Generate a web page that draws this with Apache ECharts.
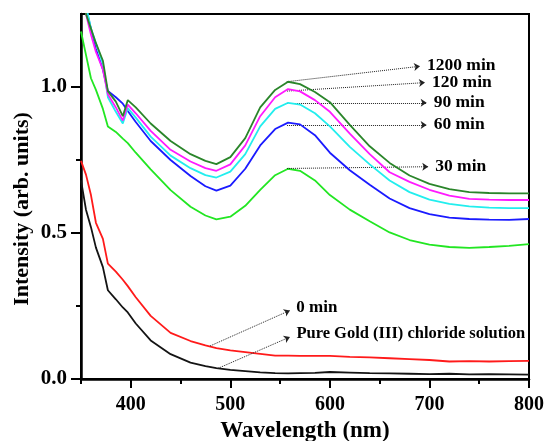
<!DOCTYPE html>
<html>
<head>
<meta charset="utf-8">
<style>
  html, body { margin: 0; padding: 0; background: #fff; }
  #chart { width: 547px; height: 441px; }
</style>
<script src="https://cdn.jsdelivr.net/npm/echarts@6/dist/echarts.min.js"></script>
</head>
<body>
<div id="chart"></div>
<script>
// Absorption spectra of the gold solution recorded at increasing reaction times
const wavelengths = [350, 355, 360, 365, 372, 377, 385, 392, 397, 405, 420, 440, 460, 475, 486, 500, 515, 530, 545, 558, 570, 585, 600, 620, 640, 660, 680, 700, 720, 740, 760, 780, 800];

const pureGold = [0.68, 0.58, 0.52, 0.45, 0.383, 0.304, 0.273, 0.245, 0.228, 0.19, 0.132, 0.085, 0.056, 0.044, 0.037, 0.031, 0.027, 0.023, 0.02, 0.019, 0.02, 0.021, 0.024, 0.022, 0.02, 0.019, 0.018, 0.017, 0.018, 0.016, 0.017, 0.016, 0.015];
const min0 = [0.747, 0.70, 0.63, 0.535, 0.48, 0.395, 0.368, 0.34, 0.318, 0.28, 0.216, 0.158, 0.13, 0.115, 0.106, 0.098, 0.092, 0.086, 0.08, 0.08, 0.079, 0.079, 0.079, 0.076, 0.074, 0.071, 0.068, 0.065, 0.06, 0.061, 0.06, 0.061, 0.062];
const min30 = [1.19, 1.11, 1.03, 0.99, 0.925, 0.865, 0.846, 0.823, 0.808, 0.775, 0.718, 0.647, 0.59, 0.56, 0.547, 0.556, 0.593, 0.648, 0.698, 0.72, 0.713, 0.68, 0.63, 0.58, 0.54, 0.502, 0.476, 0.46, 0.452, 0.449, 0.452, 0.456, 0.462];
const min60 = [1.4, 1.27, 1.2, 1.13, 1.06, 0.986, 0.965, 0.943, 0.918, 0.88, 0.815, 0.75, 0.695, 0.66, 0.645, 0.662, 0.72, 0.80, 0.856, 0.878, 0.872, 0.835, 0.775, 0.715, 0.665, 0.618, 0.585, 0.565, 0.553, 0.548, 0.546, 0.545, 0.548];
const min90 = [1.45, 1.28, 1.2, 1.15, 1.08, 0.965, 0.915, 0.875, 0.928, 0.895, 0.83, 0.765, 0.722, 0.698, 0.69, 0.71, 0.77, 0.865, 0.925, 0.946, 0.94, 0.91, 0.865, 0.795, 0.735, 0.68, 0.64, 0.614, 0.6, 0.591, 0.587, 0.585, 0.585];
const min120 = [1.42, 1.25, 1.18, 1.12, 1.06, 0.975, 0.93, 0.885, 0.94, 0.91, 0.85, 0.785, 0.745, 0.722, 0.713, 0.735, 0.80, 0.90, 0.965, 0.993, 0.985, 0.955, 0.915, 0.84, 0.77, 0.708, 0.675, 0.648, 0.628, 0.617, 0.614, 0.613, 0.613];
const min1200 = [1.42, 1.25, 1.2, 1.15, 1.09, 0.986, 0.95, 0.90, 0.955, 0.93, 0.875, 0.815, 0.77, 0.747, 0.736, 0.76, 0.825, 0.93, 0.99, 1.018, 1.01, 0.983, 0.948, 0.87, 0.797, 0.74, 0.697, 0.668, 0.65, 0.64, 0.637, 0.636, 0.636];

const seriesNames = ['Pure Gold (III) chloride solution', '0 min', '30 min', '60 min', '90 min', '120 min', '1200 min'];
const seriesValues = [pureGold, min0, min30, min60, min90, min120, min1200];
const seriesColors = ['#141414', '#ff1a1a', '#22e622', '#1a1aff', '#22eeee', '#ff1aff', '#2a852a'];
const calloutFontSizes = [16.5, 17, 17.5, 17.5, 17.5, 17.5, 17.5];

// Tick labels
const xTickLabels = [400, 500, 600, 700, 800];
const xMinorTicks = [350, 450, 550, 650, 750];
const yTickLabels = [0, 0.5, 1.0];
const yMinorTicks = [0.25, 0.75];

// Dotted call-out arrows: from a point on the curve to the label position (nm, intensity)
const arrowFrom = [[488, 0.037], [479.6, 0.113], [557, 0.721], [557, 0.870], [557, 0.946], [557, 0.986], [556.6, 1.018]];
const arrowTo = [[559.9, 0.144], [559.9, 0.235], [698.8, 0.727], [697.2, 0.870], [697.2, 0.946], [695.5, 1.015], [690.5, 1.071]];

const serif = '"Liberation Serif", "Times New Roman", serif';

const chart = echarts.init(document.getElementById('chart'), null, { renderer: 'canvas' });

const series = seriesNames.map((name, i) => ({
  name: name,
  type: 'line',
  xAxisIndex: 0,
  yAxisIndex: 0,
  data: wavelengths.map((w, j) => [w, seriesValues[i][j]]),
  showSymbol: false,
  symbol: 'none',
  clip: true,
  lineStyle: { color: seriesColors[i], width: 1.8 },
  itemStyle: { color: seriesColors[i] },
  z: 2 + i,
  markLine: {
    silent: true,
    symbol: ['none', 'arrow'],
    symbolSize: 6,
    lineStyle: { type: 'dotted', color: '#222', width: 1 },
    label: {
      show: true,
      position: 'end',
      distance: 7,
      formatter: name,
      color: '#000',
      fontFamily: serif,
      fontWeight: 'bold',
      fontSize: calloutFontSizes[i]
    },
    data: [[
      { coord: arrowFrom[i] },
      { coord: arrowTo[i] }
    ]]
  }
}));

chart.setOption({
  animation: false,
  backgroundColor: '#fff',
  grid: {
    left: 81, right: 18, top: 14, bottom: 62,
    outerBoundsMode: 'none',
    containLabel: false,
    show: true, borderColor: '#000', borderWidth: 2, backgroundColor: 'transparent'
  },
  xAxis: [{
    type: 'value',
    min: 350, max: 800, interval: 50,
    name: 'Wavelength (nm)',
    nameLocation: 'middle',
    nameGap: 41,
    nameMoveOverlap: false,
    nameTextStyle: { color: '#000', fontFamily: serif, fontWeight: 'bold', fontSize: 23 },
    axisLine: { show: true, onZero: false, lineStyle: { color: '#000', width: 2.5 } },
    axisTick: { show: true, inside: false, length: 9, customValues: xTickLabels, lineStyle: { color: '#000', width: 2 } },
    axisLabel: { margin: 16, customValues: xTickLabels, color: '#000', fontFamily: serif, fontWeight: 'bold', fontSize: 20 },
    splitLine: { show: false }
  }, {
    type: 'value',
    min: 350, max: 800, interval: 50,
    position: 'bottom',
    axisLine: { show: false },
    axisTick: { show: true, inside: false, length: 5, customValues: xMinorTicks, lineStyle: { color: '#000', width: 2 } },
    axisLabel: { show: false },
    splitLine: { show: false }
  }],
  yAxis: [{
    type: 'value',
    min: 0, max: 1.25, interval: 0.25,
    axisLine: { show: true, onZero: false, lineStyle: { color: '#000', width: 2.5 } },
    axisTick: { show: true, inside: false, length: 10, customValues: yTickLabels, lineStyle: { color: '#000', width: 2 } },
    axisLabel: { margin: 14, customValues: yTickLabels, formatter: v => v.toFixed(1), color: '#000', fontFamily: serif, fontWeight: 'bold', fontSize: 21 },
    splitLine: { show: false }
  }, {
    type: 'value',
    min: 0, max: 1.25, interval: 0.25,
    position: 'left',
    axisLine: { show: false },
    axisTick: { show: true, inside: false, length: 5, customValues: yMinorTicks, lineStyle: { color: '#000', width: 2 } },
    axisLabel: { show: false },
    splitLine: { show: false }
  }],
  graphic: [{
    type: 'text',
    x: 22,
    y: 209,
    rotation: Math.PI / 2,
    style: {
      text: 'Intensity (arb. units)',
      x: 0, y: 0,
      align: 'center',
      verticalAlign: 'middle',
      fill: '#000',
      font: 'bold 22px ' + serif
    }
  }],
  series: series
});
</script>
</body>
</html>
